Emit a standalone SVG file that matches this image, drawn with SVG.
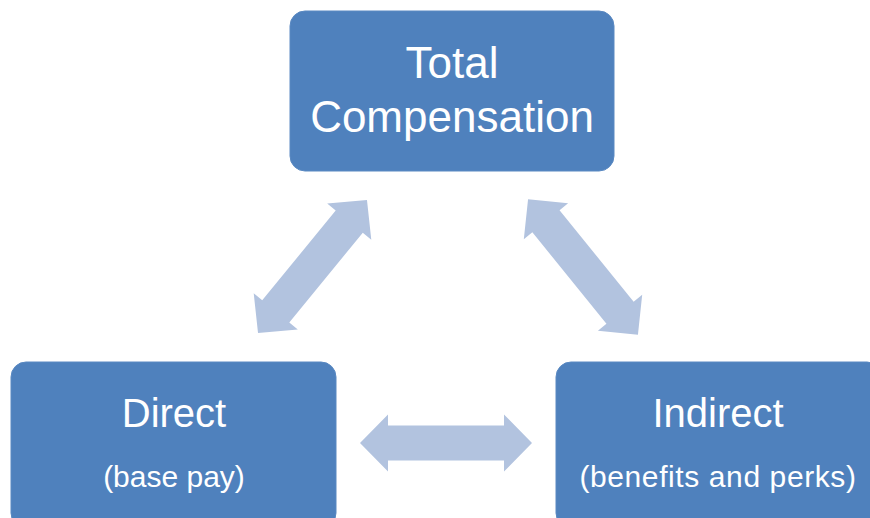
<svg xmlns="http://www.w3.org/2000/svg" width="870" height="518" viewBox="0 0 870 518">
  <defs>
    <style>
      .box { fill: #4F81BD; stroke: #5A89C2; stroke-width: 1; }
      .arrow { fill: #B2C3DF; }
      .lbl { font-family: "Liberation Sans", Arial, sans-serif; fill: #FFFFFF; text-anchor: middle; }
      .big { font-size: 44px; }
      .mid { font-size: 40px; }
      .small { font-size: 30px; }
      .wide { letter-spacing: 0.6px; }
    </style>
    <!-- double-headed block arrow, 172 long, centred on the origin -->
    <path id="dbl" d="M -86 0 L -58 -28.5 L -58 -17.5 L 58 -17.5 L 58 -28.5 L 86 0 L 58 28.5 L 58 17.5 L -58 17.5 L -58 28.5 Z"/>
  </defs>

  <rect width="870" height="518" fill="#FFFFFF"/>

  <g id="connectors">
    <use href="#dbl" class="arrow" transform="translate(312.5 266.5) rotate(-50.7)"/>
    <use href="#dbl" class="arrow" transform="translate(583 267) rotate(51) scale(1.015 1)"/>
    <use href="#dbl" class="arrow" transform="translate(446 443)"/>
  </g>

  <g id="total">
    <rect class="box" x="290" y="11" width="324" height="160" rx="15" ry="15"/>
    <text class="lbl big" x="452" y="78">Total</text>
    <text class="lbl big" x="452" y="132">Compensation</text>
  </g>

  <g id="direct">
    <rect class="box" x="11" y="362" width="325" height="166" rx="15" ry="15"/>
    <text class="lbl mid" x="174" y="427">Direct</text>
    <text class="lbl small" x="174" y="487">(base pay)</text>
  </g>

  <g id="indirect">
    <rect class="box" x="556" y="362" width="326" height="166" rx="15" ry="15"/>
    <text class="lbl mid" x="718" y="427">Indirect</text>
    <text class="lbl small wide" x="718" y="487">(benefits and perks)</text>
  </g>
</svg>
